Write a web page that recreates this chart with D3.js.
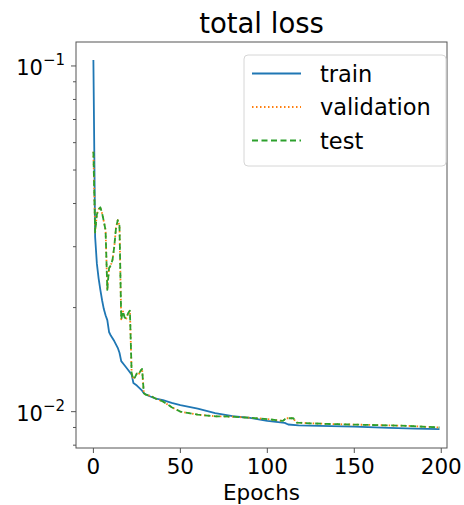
<!DOCTYPE html>
<html>
<head>
<meta charset="utf-8">
<script src="https://cdn.jsdelivr.net/npm/d3@7"></script>
<style>
  body { margin: 0; background: #fff; }
  text { font-family: "DejaVu Sans", sans-serif; fill: #000; }
</style>
</head>
<body>
<div id="chart"></div>
<script>
// Data
const trainEpochs = [0, 1, 2, 3, 4, 5, 6, 7, 8, 9, 10, 12, 14, 15, 16, 18, 20, 22, 23, 25, 28, 29, 32, 36, 40, 45, 50, 60, 70, 80, 90, 100, 110, 112, 118, 130, 150, 170, 185, 199];
const trainLoss = [0.104, 0.032, 0.0268, 0.0243, 0.0225, 0.021, 0.0198, 0.019, 0.0184, 0.017, 0.0166, 0.016, 0.0153, 0.0148, 0.014, 0.0136, 0.0132, 0.0128, 0.0121, 0.0119, 0.0115, 0.0113, 0.0111, 0.0109, 0.0108, 0.0106, 0.01045, 0.0102, 0.0099, 0.0097, 0.0096, 0.0094, 0.00928, 0.00918, 0.00913, 0.0091, 0.00905, 0.00898, 0.00893, 0.0089];

const evalEpochs = [0, 1, 2, 3, 4, 5, 6, 7, 8, 9, 10, 11, 12, 13, 14, 15, 16, 17, 18, 19, 20, 21, 22, 23, 24, 25, 26, 27, 28, 29, 30, 33, 36, 40, 45, 50, 55, 60, 70, 80, 90, 100, 105, 109, 110, 111, 115, 116, 117, 125, 140, 160, 180, 199];
const validationLoss = [0.0565, 0.033, 0.0372, 0.0385, 0.039, 0.0375, 0.0355, 0.0335, 0.0225, 0.026, 0.0265, 0.0275, 0.03, 0.034, 0.0358, 0.0345, 0.0185, 0.0195, 0.0187, 0.0186, 0.0193, 0.0196, 0.0129, 0.0124, 0.0126, 0.0129, 0.0128, 0.0131, 0.0133, 0.0113, 0.0112, 0.0111, 0.0109, 0.0107, 0.0103, 0.01, 0.0099, 0.0098, 0.0097, 0.00967, 0.0096, 0.00952, 0.00945, 0.0094, 0.0095, 0.00957, 0.00957, 0.0094, 0.0093, 0.00925, 0.0092, 0.00915, 0.0091, 0.009];
const testLoss = [0.0565, 0.033, 0.0372, 0.0385, 0.039, 0.0375, 0.0355, 0.0335, 0.0225, 0.026, 0.0265, 0.0275, 0.03, 0.034, 0.0358, 0.0345, 0.0185, 0.0195, 0.0187, 0.0186, 0.0193, 0.0196, 0.0129, 0.0124, 0.0126, 0.0129, 0.0128, 0.0131, 0.0133, 0.0113, 0.0112, 0.0111, 0.0109, 0.0107, 0.0103, 0.01, 0.0099, 0.0098, 0.0097, 0.00967, 0.0096, 0.00952, 0.00945, 0.0094, 0.0095, 0.00957, 0.00957, 0.0094, 0.0093, 0.00925, 0.0092, 0.00915, 0.0091, 0.009];

const xTicks = [0, 50, 100, 150, 200];
const yMajor = [0.1, 0.01];
const yMinor = [0.008, 0.009, 0.02, 0.03, 0.04, 0.05, 0.06, 0.07, 0.08, 0.09];
const seriesNames = ["train", "validation", "test"];

const W = 464, H = 505;
const margin = { top: 42, right: 17, bottom: 57, left: 76 };
const width = W - margin.left - margin.right;
const height = H - margin.top - margin.bottom;

const svg = d3.select("#chart").append("svg")
    .attr("width", W)
    .attr("height", H);

const g = svg.append("g")
    .attr("transform", `translate(${margin.left}, ${margin.top})`);

const x = d3.scaleLinear().domain([-10, 203.3]).range([0, width]);
const y = d3.scaleLog().domain([0.00785, 0.1173]).range([height, 0]);

svg.append("defs").append("clipPath").attr("id", "plot-clip")
    .append("rect").attr("width", width).attr("height", height);

// Lines
const line = d3.line()
    .x(d => x(d[0]))
    .y(d => y(d[1]));

const series = [
    { name: seriesNames[0], xs: trainEpochs, ys: trainLoss, color: "#1f77b4", dash: null },
    { name: seriesNames[1], xs: evalEpochs, ys: validationLoss, color: "#ff7f0e", dash: "1.5,2.5" },
    { name: seriesNames[2], xs: evalEpochs, ys: testLoss, color: "#2ca02c", dash: "6,3.5" }
];

const plot = g.append("g").attr("clip-path", "url(#plot-clip)");
series.forEach(s => {
    plot.append("path")
        .datum(s.xs.map((e, i) => [e, s.ys[i]]))
        .attr("fill", "none")
        .attr("stroke", s.color)
        .attr("stroke-width", 1.8)
        .attr("stroke-dasharray", s.dash)
        .attr("stroke-linejoin", "round")
        .attr("d", line);
});

// Frame
g.append("rect")
    .attr("width", width)
    .attr("height", height)
    .attr("fill", "none")
    .attr("stroke", "#555")
    .attr("stroke-width", 1);

// X axis
const xAxis = g.append("g").attr("transform", `translate(0, ${height})`);
xAxis.selectAll(".x-tick")
    .data(xTicks)
    .enter()
    .append("line")
    .attr("x1", d => x(d)).attr("x2", d => x(d))
    .attr("y1", 0).attr("y2", 5)
    .attr("stroke", "#555");
xAxis.selectAll(".x-label")
    .data(xTicks)
    .enter()
    .append("text")
    .attr("x", d => x(d))
    .attr("y", 26)
    .attr("text-anchor", "middle")
    .style("font-size", "21.5px")
    .text(d => d);

// Y axis (log)
g.selectAll(".y-minor")
    .data(yMinor)
    .enter()
    .append("line")
    .attr("x1", -3).attr("x2", 0)
    .attr("y1", d => y(d)).attr("y2", d => y(d))
    .attr("stroke", "#555");
g.selectAll(".y-major")
    .data(yMajor)
    .enter()
    .append("line")
    .attr("x1", -5).attr("x2", 0)
    .attr("y1", d => y(d)).attr("y2", d => y(d))
    .attr("stroke", "#555");
const yLabels = g.selectAll(".y-label")
    .data(yMajor)
    .enter()
    .append("text")
    .attr("x", -11)
    .attr("y", d => y(d) + 9)
    .attr("text-anchor", "end")
    .style("font-size", "21px");
yLabels.append("tspan").text("10");
yLabels.append("tspan")
    .attr("dy", -10)
    .style("font-size", "15px")
    .text(d => "\u2212" + Math.round(-Math.log10(d)));

// Title and axis label
svg.append("text")
    .attr("x", margin.left + width / 2)
    .attr("y", 33)
    .attr("text-anchor", "middle")
    .style("font-size", "27.5px")
    .text("total loss");

svg.append("text")
    .attr("x", margin.left + width / 2)
    .attr("y", 499.5)
    .attr("text-anchor", "middle")
    .style("font-size", "21.5px")
    .text("Epochs");

// Legend
const legend = g.append("g")
    .attr("transform", `translate(${244 - margin.left}, ${55 - margin.top})`);
legend.append("rect")
    .attr("width", 202)
    .attr("height", 111)
    .attr("rx", 4)
    .attr("fill", "#fff")
    .attr("fill-opacity", 0.8)
    .attr("stroke", "#d6d6d6");
series.forEach((s, i) => {
    const ly = 18.5 + i * 33.5;
    legend.append("line")
        .attr("x1", 8).attr("x2", 57)
        .attr("y1", ly).attr("y2", ly)
        .attr("stroke", s.color)
        .attr("stroke-width", 1.8)
        .attr("stroke-dasharray", s.dash);
    legend.append("text")
        .attr("x", 76)
        .attr("y", ly + 8)
        .style("font-size", "22.5px")
        .text(s.name);
});
</script>
</body>
</html>
